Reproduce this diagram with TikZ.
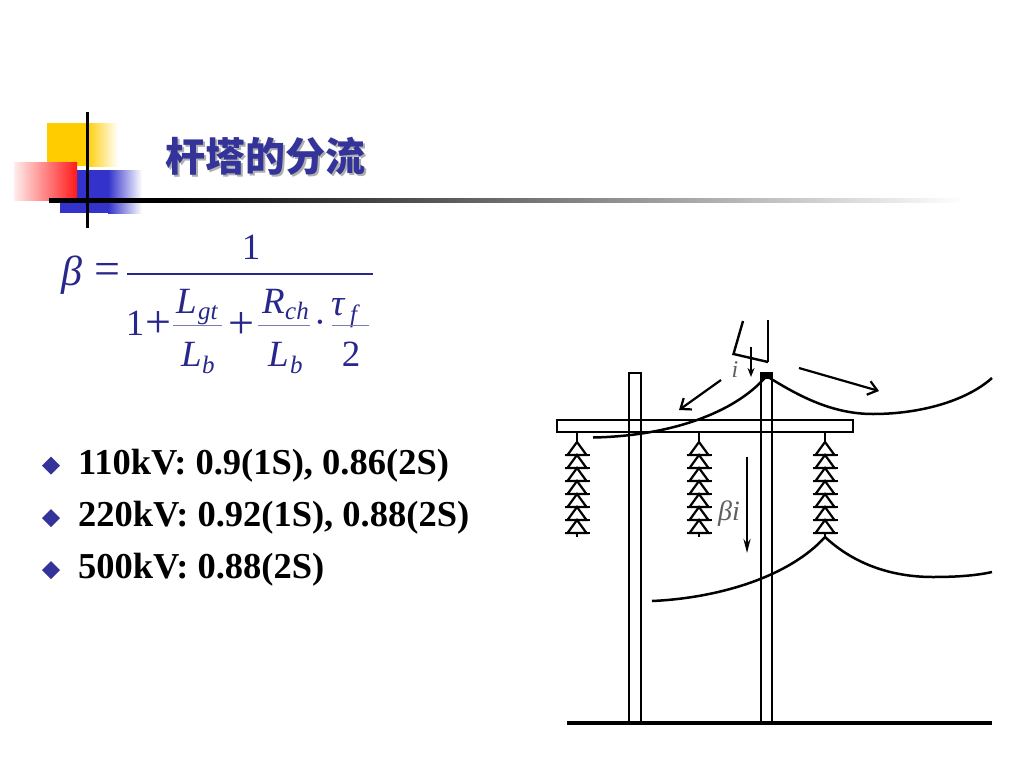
\documentclass[tikz,border=0pt]{standalone}
\usepackage{fontspec}
\setmainfont{Liberation Serif}
\newfontfamily\cjk{Noto Sans CJK SC}
\usetikzlibrary{arrows.meta}
\definecolor{titleblue}{RGB}{51,51,153}
\definecolor{fblue}{RGB}{40,40,140}
\definecolor{fbar}{RGB}{125,125,175}
\definecolor{sqyellow}{RGB}{255,204,0}
\definecolor{sqblue}{RGB}{51,51,204}
\definecolor{sqred}{RGB}{255,25,25}
\definecolor{lbl}{RGB}{95,95,95}
\definecolor{shadowgray}{RGB}{175,175,175}
\begin{document}
\begin{tikzpicture}[x=1pt,y=-1pt,
  fitl/.style={text=fblue, font=\fontsize{37}{37}\selectfont\itshape, inner sep=0pt, anchor=base west},
  fup/.style={text=fblue, font=\fontsize{37}{37}\selectfont, inner sep=0pt, anchor=base},
  fop/.style={text=fblue, font=\fontsize{46}{46}\selectfont, inner sep=0pt, anchor=center},
  fsub/.style={text=fblue, font=\fontsize{25}{25}\selectfont\itshape, inner sep=0pt, anchor=base west},
  fbarline/.style={draw=fbar, line width=1pt},
  bullettxt/.style={font=\bfseries\fontsize{36.5}{36.5}\selectfont, inner sep=0pt, anchor=base west},
  bulletmark/.style={fill=titleblue},
  tw/.style={line width=2.5pt, line join=miter},
  wire/.style={line width=2.5pt},
  openarrow/.style={line width=2.2pt, -{Straight Barb[length=9pt,width=14pt,line width=2.2pt]}},
  lbltxt/.style={text=lbl, font=\itshape, inner sep=0pt},
]
\useasboundingbox (0,0) rectangle (1024,768);
\fill[white] (0,0) rectangle (1024,768);

% ---------- title decoration ----------
\fill[sqyellow] (47,123) rectangle (86,166);
\shade[left color=sqyellow, right color=white] (86,123) rectangle (118,166);
\fill[sqblue] (60,170) rectangle (108,213);
\shade[left color=sqblue, right color=white] (108,170) rectangle (142,213);
\shade[left color=sqred!8, right color=sqred] (14,162) rectangle (77,200);
\fill[black] (49,198) rectangle (160,202.5);
\shade[left color=black, middle color=black!55, right color=white] (160,198) rectangle (965,202.5);
\fill[black] (85.5,112) rectangle (89,228);

\node[text=shadowgray, font=\cjk\bfseries\fontsize{40}{40}\selectfont, anchor=west, inner sep=0pt] (titleshadow) at (167,158) {杆塔的分流};
\node[text=titleblue, font=\cjk\bfseries\fontsize{40}{40}\selectfont, anchor=west, inner sep=0pt] (title) at (165,156) {杆塔的分流};

% ---------- formula ----------
\node[fitl, font=\fontsize{42}{42}\selectfont\itshape] (beta) at (61,285) {β};
\node[fop] (eq) at (107,274) {=};
\node[fup] (num1) at (251,259) {1};
\draw[draw=fblue, line width=1.4pt] (127,274) -- (373,274);
\node[fup] (den1) at (135,335) {1};
\node[fop] (plus1) at (158,325) {+};
\node[fitl] (Lgt) at (176,313) {L};
\node[fsub] (gt) at (198,319) {gt};
\draw[fbarline] (173,325) -- (222,325);
\node[fitl] (Lb1) at (181,366) {L};
\node[fsub] (b1) at (202,373) {b};
\node[fop] (plus2) at (241,326) {+};
\node[fitl] (Rch) at (262,313) {R};
\node[fsub] (ch) at (285,319) {ch};
\draw[fbarline] (258,325) -- (310,325);
\node[fitl] (Lb2) at (268,366) {L};
\node[fsub] (b2) at (290,373) {b};
\node[fup] (cdot) at (320,334) {·};
\node[fitl] (tau) at (331,315) {τ};
\node[fsub] (fsb) at (350,322) {f};
\draw[fbarline] (332,325) -- (369,325);
\node[fup] (two) at (351,366) {2};

% ---------- bullets ----------
\fill[bulletmark] (51,456.5) -- (60,465.5) -- (51,474.5) -- (42,465.5) -- cycle;
\fill[bulletmark] (51,509) -- (60,518) -- (51,527) -- (42,518) -- cycle;
\fill[bulletmark] (51,561) -- (60,570) -- (51,579) -- (42,570) -- cycle;
\node[bullettxt] (b110) at (78,474) {110kV: 0.9(1S), 0.86(2S)};
\node[bullettxt] (b220) at (78,526) {220kV: 0.92(1S), 0.88(2S)};
\node[bullettxt] (b500) at (78,578) {500kV: 0.88(2S)};

% ---------- tower ----------
% ground
\draw[line width=3.2pt] (567,723) -- (992,723);
% left pole
\draw[tw] (629,723) -- (629,373) -- (641,373) -- (641,723);
% right pole
\draw[tw] (761,723) -- (761,377);
\draw[tw] (772,377) -- (772,723);
\fill[black] (760,371.5) rectangle (773,379);
% cross arm
\draw[tw] (557,420) rectangle (853,432);

% insulator strings
\foreach \cx in {577,699,825} {
  \draw[tw] (\cx,432) -- (\cx,442);
  \foreach \k in {0,...,6} {
    \draw[line width=2.2pt] (\cx,442+13*\k) -- (\cx-9.5,455+13*\k) -- (\cx+9.5,455+13*\k) -- cycle;
    \draw[line width=2.2pt] (\cx-12.5,455+13*\k) -- (\cx+12.5,455+13*\k);
  }
  \draw[tw] (\cx,533) -- (\cx,537);
}

% ground wire
\coordinate (gwtop) at (766.5,376);
\draw[wire] (593,437.5) .. controls (670,436) and (735,413) .. (gwtop);
\draw[wire] (gwtop) .. controls (800,397) and (833,414) .. (873,414)
                    .. controls (918,414) and (965,402) .. (992,378);
% phase conductor
\coordinate (ins3) at (825,537);
\draw[wire] (652,601) .. controls (720,598) and (790,576) .. (ins3);
\draw[wire] (ins3) .. controls (855,565) and (893,577) .. (933,577)
                   .. controls (960,577) and (979,575) .. (992,572);

% lightning channel
\coordinate (ch1) at (743,321);
\coordinate (ch2) at (733.5,354);
\coordinate (ch3) at (768,362);
\coordinate (ch4) at (768,320);
\draw[line width=2.4pt] (ch1) -- (ch2) -- (ch3);
\draw[line width=2.4pt] (ch4) -- (ch3);

% current arrows
\coordinate (ia1) at (751,347);
\coordinate (ia2) at (751,377);
\draw[line width=2.2pt, -{Stealth[length=9pt,width=7pt]}] (ia1) -- (ia2);
\node[lbltxt, font=\itshape\fontsize{24}{24}\selectfont] (ilbl) at (735,370) {i};

\coordinate (la1) at (721,380);
\coordinate (la2) at (679,410);
\draw[openarrow] (la1) -- (la2);
\coordinate (ra1) at (799,368);
\coordinate (ra2) at (879,391);
\draw[openarrow] (ra1) -- (ra2);

\coordinate (bi1) at (747,457);
\coordinate (bi2) at (747,553);
\draw[line width=2.2pt, -{Stealth[length=14pt,width=7pt]}] (bi1) -- (bi2);
\node[lbltxt, font=\itshape\fontsize{28}{28}\selectfont] (bilbl) at (729,514) {βi};
\end{tikzpicture}
\end{document}
